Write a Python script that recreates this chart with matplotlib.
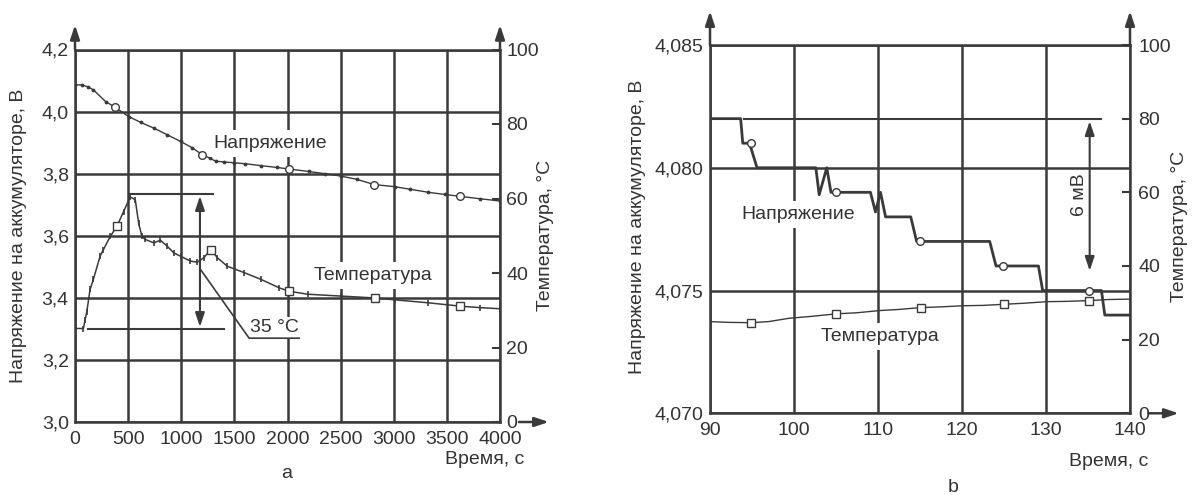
import matplotlib
matplotlib.use('Agg')
import matplotlib.pyplot as plt
from matplotlib.ticker import FuncFormatter

plt.rcParams['font.family'] = ['Liberation Sans', 'DejaVu Sans']

W, H = 1193, 495
FS = 14
TC = '#333333'
LC = '#3a3a3a'

# ---------------- Panel a data ----------------
a_xticks = [0, 500, 1000, 1500, 2000, 2500, 3000, 3500, 4000]
a_yticks = [3.0, 3.2, 3.4, 3.6, 3.8, 4.0, 4.2]
a_t_ticks = [0, 20, 40, 60, 80, 100]

a_volt_time = [0, 63, 120, 173, 289, 378, 504, 620, 740, 870, 993, 1100, 1198, 1270, 1324,
               1400, 1497, 1600, 1749, 1900, 2017, 2200, 2350, 2506, 2650, 2815, 3010, 3150,
               3326, 3480, 3625, 3815, 4000]
a_volt = [4.086, 4.086, 4.080, 4.070, 4.032, 4.014, 3.984, 3.965, 3.947, 3.925, 3.904, 3.884,
          3.861, 3.850, 3.840, 3.838, 3.835, 3.832, 3.826, 3.820, 3.815, 3.807, 3.800, 3.792,
          3.782, 3.765, 3.758, 3.750, 3.740, 3.733, 3.727, 3.719, 3.712]
a_volt_mk_time = [378, 1198, 2017, 2815, 3625]
a_volt_mk = [4.014, 3.861, 3.815, 3.765, 3.727]

a_temp_time = [0, 79, 95, 110, 142, 173, 236, 268, 331, 394, 457, 520, 567, 599, 630, 662, 741,
               804, 867, 930, 993, 1087, 1150, 1213, 1277, 1340, 1434, 1592, 1749, 1923, 2017,
               2190, 2506, 2821, 3010, 3326, 3625, 3815, 4000]
a_temp = [25.1, 25.1, 27.5, 29.4, 35.6, 38.3, 44.5, 46.3, 49.8, 52.5, 56.5, 60.4, 59.7, 53.4,
          49.8, 49.0, 48.1, 48.8, 47.2, 45.4, 44.5, 43.2, 42.9, 44.1, 46.3, 44.1, 41.8, 40.1,
          38.3, 36.0, 35.1, 34.3, 33.8, 33.3, 32.8, 32.0, 31.1, 30.7, 30.4]
a_temp_mk_time = [394, 1277, 2017, 2821, 3625]
a_temp_mk = [52.5, 46.3, 35.1, 33.3, 31.1]

# ---------------- Panel b data ----------------
b_xticks = [90, 100, 110, 120, 130, 140]
b_yticks = [4.070, 4.075, 4.080, 4.085]
b_t_ticks = [0, 20, 40, 60, 80, 100]

b_volt_time = [90, 93.65, 93.9, 94.7, 95.6, 102.6, 103.0, 103.9, 104.4, 109.1, 109.7, 110.3,
               110.9, 113.9, 114.6, 123.3, 124.05, 129.1, 129.6, 136.6, 137.0, 140]
b_volt = [4.082, 4.082, 4.081, 4.081, 4.080, 4.080, 4.0789, 4.080, 4.079, 4.079, 4.0782, 4.079,
          4.078, 4.078, 4.077, 4.077, 4.076, 4.076, 4.075, 4.075, 4.074, 4.074]
b_volt_mk_time = [94.9, 105.0, 114.95, 124.9, 135.1]
b_volt_mk = [4.081, 4.079, 4.077, 4.076, 4.075]

b_temp_time = [90, 92, 94.9, 97, 99.4, 102, 105, 107.5, 110.2, 112.5, 115.1, 117.5, 120.1,
               122.5, 125, 127.5, 130, 132.5, 135.1, 137.5, 140]
b_temp = [24.9, 24.7, 24.6, 24.9, 25.8, 26.3, 27.0, 27.3, 27.9, 28.2, 28.7, 28.9, 29.2, 29.3,
          29.6, 29.9, 30.3, 30.4, 30.6, 30.9, 31.0]
b_temp_mk_time = [94.9, 105.0, 115.1, 125.0, 135.1]
b_temp_mk = [24.6, 27.0, 28.7, 29.6, 30.6]

ylabel_left = 'Напряжение на аккумуляторе, В'
ylabel_right = 'Температура, °C'
xlabel = 'Время, с'

fig = plt.figure(figsize=(W / 100, H / 100), dpi=100)
fig.patch.set_facecolor('white')


def px_axes(l, t, r, b):
    return fig.add_axes([l / W, 1 - b / H, (r - l) / W, (b - t) / H])


def comma(dec):
    return FuncFormatter(lambda v, p: f'{v:.{dec}f}'.replace('.', ','))


def arrow(ax, x0, y0, x1, y1, style='-|>'):
    ax.annotate('', xy=(x1, y1), xytext=(x0, y0), xycoords='axes fraction',
                textcoords='axes fraction', annotation_clip=False,
                arrowprops=dict(arrowstyle=f'{style},head_length=0.6,head_width=0.2',
                                lw=1.8, color=LC, shrinkA=0, shrinkB=0, mutation_scale=14))


def setup(ax, ax2, xlim, xticks, ylim, yticks, dec, rpad, xpad, tip, xtip, tticks):
    ax.set_xlim(xlim)
    ax.set_ylim(ylim)
    ax.set_xticks(xticks)
    ax.set_yticks(yticks)
    ax.yaxis.set_major_formatter(comma(dec))
    ax.set_axisbelow(True)
    ax.grid(True, color=LC, lw=1.8)
    ax.tick_params(axis='y', length=0, labelsize=FS, labelcolor=TC, pad=4.5)
    ax.tick_params(axis='x', length=0, labelsize=FS, labelcolor=TC, pad=xpad)
    for s in ax.spines.values():
        s.set_color(LC)
        s.set_linewidth(1.8)
    ax2.set_ylim(0, 100)
    ax2.set_yticks(tticks)
    ax2.tick_params(axis='y', direction='in', length=5.5, width=1.5, color=LC,
                    labelsize=FS, labelcolor=TC, pad=rpad)
    for k, s in ax2.spines.items():
        s.set_visible(False)
    # axis arrows
    arrow(ax, 0, 1, 0, tip)
    arrow(ax, 1, 1, 1, tip)
    arrow(ax, xtip[0], 0, xtip[1], 0)


def fx(x):
    return x / W


def fy(y):
    return 1 - y / H


# ---------------- Panel a ----------------
axa = px_axes(75, 49.5, 500, 422)
axa2 = axa.twinx()
setup(axa, axa2, (0, 4000), a_xticks, (3.0, 4.2), a_yticks, 1, 4.5, 6.5, 1.066,
      (1.0447, 1.115), a_t_ticks)

axa.plot(a_volt_time, a_volt, color=LC, lw=1.0, marker='.', ms=3.5, zorder=3)
axa.plot(a_volt_mk_time, a_volt_mk, ls='none', marker='o', ms=5.5, mfc='white', mec=LC,
         mew=1.0, zorder=4)
axa2.plot(a_temp_time, a_temp, color=LC, lw=1.1, marker='|', ms=4, mew=1.2, zorder=3)
axa2.plot(a_temp_mk_time, a_temp_mk, ls='none', marker='s', ms=5.5, mfc='white', mec=LC,
          mew=1.0, zorder=4)

tda = axa.transData
axa2.text(1840, 3.897, 'Напряжение', transform=tda, ha='center', va='center', fontsize=FS,
          color=TC, zorder=5, bbox=dict(boxstyle='square,pad=0.25', fc='white', ec='none'))
axa2.text(2800, 3.473, 'Температура', transform=tda, ha='center', va='center', fontsize=FS,
          color=TC, zorder=5, bbox=dict(boxstyle='square,pad=0.25', fc='white', ec='none'))
axa2.text(1645, 3.276, '35 °C', transform=tda, ha='left', va='bottom', fontsize=FS,
          color=TC, zorder=5, bbox=dict(boxstyle='square,pad=0.1', fc='white', ec='none'))
# annotation lines
axa2.plot([520, 1302], [3.735, 3.735], color=LC, lw=1.5, transform=tda, zorder=6)
axa2.plot([126, 1403], [3.301, 3.301], color=LC, lw=1.5, transform=tda, zorder=6)
axa2.plot([1182, 1639, 2110], [3.491, 3.27, 3.27], color=LC, lw=1.2, transform=tda, zorder=6)
axa2.annotate('', xy=(1176, 3.728), xytext=(1176, 3.306), xycoords=tda, textcoords=tda,
              arrowprops=dict(arrowstyle='<|-|>,head_length=0.6,head_width=0.2', lw=1.5,
                              color=LC, shrinkA=0, shrinkB=0, mutation_scale=14), zorder=6)

fig.text(fx(19), fy(236), ylabel_left, rotation=90, ha='center', va='center', fontsize=FS,
         color=TC)
fig.text(fx(545), fy(235), ylabel_right, rotation=90, ha='center', va='center',
         fontsize=FS, color=TC)
fig.text(fx(524), fy(459), xlabel, ha='right', va='center', fontsize=FS, color=TC)
fig.text(fx(287), fy(473), 'a', ha='center', va='center', fontsize=FS, color=TC)

# ---------------- Panel b ----------------
axb = px_axes(710, 45, 1130, 413.3)
axb2 = axb.twinx()
setup(axb, axb2, (90, 140), b_xticks, (4.070, 4.085), b_yticks, 3, 6, 6.5, 1.092,
      (1.044, 1.116), b_t_ticks)

axb.plot(b_volt_time, b_volt, color=LC, lw=2.0, zorder=3)
axb.plot(b_volt_mk_time, b_volt_mk, ls='none', marker='o', ms=5.5, mfc='white', mec=LC,
         mew=1.0, zorder=4)
axb2.plot(b_temp_time, b_temp, color=LC, lw=1.0, zorder=3)
axb2.plot(b_temp_mk_time, b_temp_mk, ls='none', marker='s', ms=5.5, mfc='white', mec=LC,
          mew=1.0, zorder=4)

tdb = axb.transData
axb2.text(100.5, 4.0781, 'Напряжение', transform=tdb, ha='center', va='center', fontsize=FS,
          color=TC, zorder=5, bbox=dict(boxstyle='square,pad=0.25', fc='white', ec='none'))
axb2.text(110.2, 20.8, 'Температура', ha='center', va='center', fontsize=FS,
          color=TC, zorder=5, bbox=dict(boxstyle='square,pad=0.25', fc='white', ec='none'))
axb2.text(134.0, 4.0789, '6 мВ', transform=tdb, rotation=90, ha='center', va='center',
          fontsize=FS, color=TC, zorder=5)
axb2.plot([94.0, 136.6], [4.082, 4.082], color=LC, lw=1.5, transform=tdb, zorder=6)
axb2.annotate('', xy=(135.2, 4.0819), xytext=(135.2, 4.0758), xycoords=tdb, textcoords=tdb,
              arrowprops=dict(arrowstyle='<|-|>,head_length=0.6,head_width=0.2', lw=1.5,
                              color=LC, shrinkA=0, shrinkB=0, mutation_scale=14), zorder=6)

fig.text(fx(637.5), fy(227), ylabel_left, rotation=90, ha='center', va='center', fontsize=FS,
         color=TC)
fig.text(fx(1180), fy(226), ylabel_right, rotation=90, ha='center', va='center',
         fontsize=FS, color=TC)
fig.text(fx(1148), fy(462), xlabel, ha='right', va='center', fontsize=FS, color=TC)
fig.text(fx(953), fy(487), 'b', ha='center', va='center', fontsize=FS, color=TC)

fig.savefig('out.png', dpi=100, facecolor='white')
